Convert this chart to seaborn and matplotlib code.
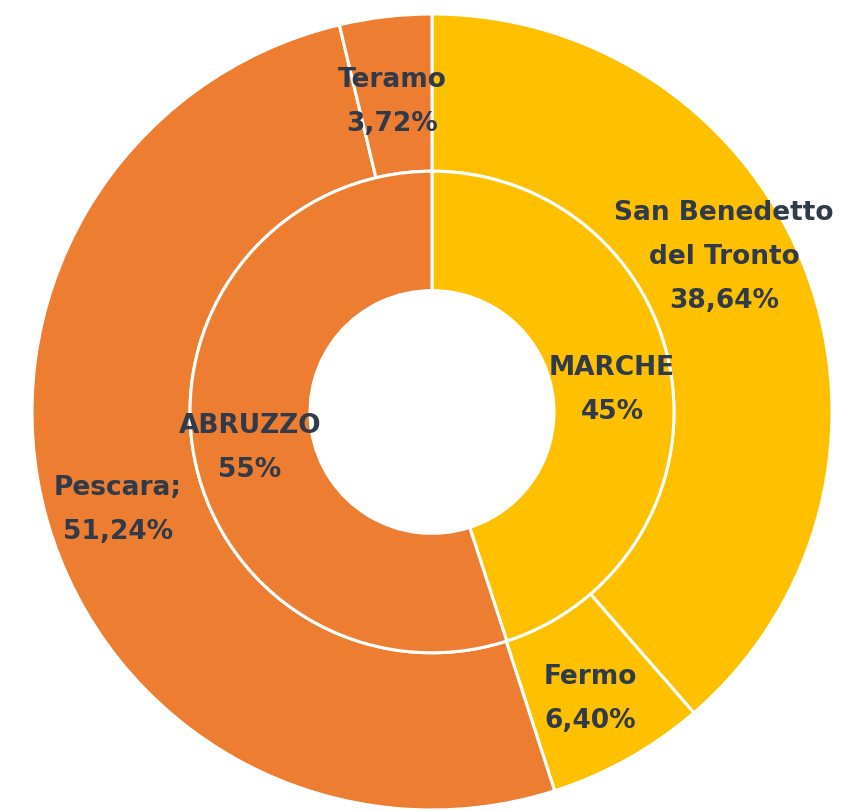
import matplotlib
matplotlib.use("Agg")
import matplotlib.pyplot as plt
import seaborn as sns

# data
regions = ["MARCHE", "ABRUZZO"]
region_pct = [45, 55]
cities = ["San Benedetto\ndel Tronto", "Fermo", "Pescara;", "Teramo"]
city_pct = [38.64, 6.40, 51.24, 3.72]
city_labels = ["38,64%", "6,40%", "51,24%", "3,72%"]
region_labels = ["45%", "55%"]

yellow = "#FFC000"
orange = "#ED7D31"
txt = "#2F3A4A"

# label positions (data units, manually placed like the original)
city_xy = [(0.73, 0.39), (0.395, -0.72), (-0.785, -0.245), (-0.10, 0.78)]
region_xy = [(0.45, 0.055), (-0.455, -0.09)]

sns.set_theme(style="white")
plt.rcParams["font.family"] = ["DejaVu Sans"]

fig = plt.figure(figsize=(8.64, 8.11), dpi=100)
ax = fig.add_axes([32 / 864, (811 - 410 - 400) / 811, 800 / 864, 796 / 811])

wp = dict(edgecolor="white", linewidth=2.2)
ax.pie(city_pct, radius=1.0, startangle=90, counterclock=False,
       colors=[yellow, yellow, orange, orange],
       wedgeprops=dict(width=0.395, **wp))
ax.pie(region_pct, radius=0.605, startangle=90, counterclock=False,
       colors=[yellow, orange],
       wedgeprops=dict(width=0.3, **wp))

tstyle = dict(ha="center", va="center", fontsize=19, fontweight="bold",
              color=txt, linespacing=1.9)
for name, lab, (x, y) in zip(cities, city_labels, city_xy):
    ax.text(x, y, f"{name}\n{lab}", **tstyle)
for name, lab, (x, y) in zip(regions, region_labels, region_xy):
    ax.text(x, y, f"{name}\n{lab}", **tstyle)

ax.set_xlim(-1, 1)
ax.set_ylim(-1, 1)
ax.set_aspect("auto")
ax.axis("off")

fig.savefig("out.png", dpi=100)
